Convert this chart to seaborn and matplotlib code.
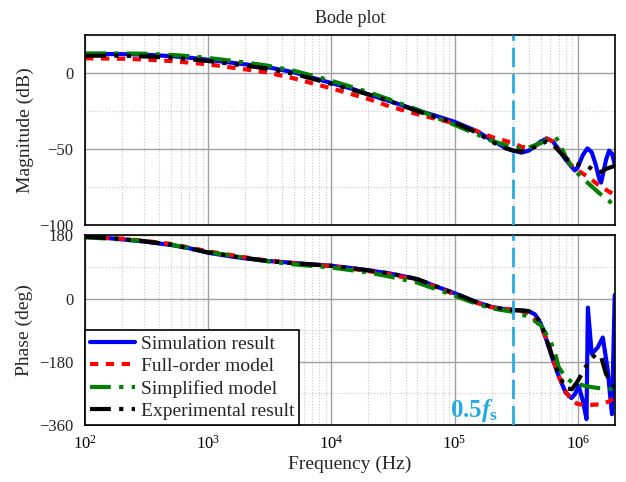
import numpy as np
import matplotlib
matplotlib.use('Agg')
import matplotlib.pyplot as plt
import seaborn as sns
from matplotlib.ticker import LogLocator, MultipleLocator, NullFormatter

# Simulation result (blue)
sim_f = [1e2, 1.5e2, 2e2, 3e2, 5e2, 7e2, 1e3, 1.5e3, 2e3, 3e3, 5e3, 7e3, 1e4, 1.5e4, 2e4, 3e4, 5e4, 7e4,
         1e5, 1.5e5, 2e5, 2.5e5, 3e5, 3.5e5, 4e5, 4.5e5, 5e5, 5.6e5, 6.3e5, 7e5, 8e5, 9e5, 9.5e5, 1e6,
         1.1e6, 1.2e6, 1.3e6, 1.4e6, 1.5e6, 1.55e6, 1.6e6, 1.7e6, 1.8e6, 1.9e6, 2e6]
sim_mag = [12.5, 12.6, 12.5, 12.2, 11.2, 10.2, 8.8, 7.0, 5.8, 4.0, 0.5, -3.0, -6.5, -10.5, -14.0, -18.5, -24.5, -28.0,
           -32.0, -38.0, -44.0, -48.5, -51.0, -52.3, -51.0, -48.0, -45.0, -43.0, -45.0, -50.0, -57.0, -62.0, -64.0, -62.0,
           -54.0, -49.5, -52.0, -60.0, -70.0, -72.0, -67.0, -57.0, -51.0, -53.0, -60.0]
sim_ph_f = [1e2, 1.5e2, 2e2, 3e2, 5e2, 7e2, 1e3, 1.5e3, 2e3, 3e3, 5e3, 7e3, 1e4, 1.5e4, 2e4, 3e4, 5e4, 7e4,
            1e5, 1.5e5, 2e5, 2.5e5, 3e5, 3.5e5, 4e5, 4.5e5, 5e5, 5.6e5, 6.3e5, 7e5, 8e5, 8.9e5, 9.5e5, 1.02e6,
            1.1e6, 1.18e6, 1.21e6, 1.3e6, 1.45e6, 1.6e6, 1.75e6, 1.9e6, 2e6]
sim_ph = [175, 172, 168, 162, 152, 143, 130, 120, 114, 107, 101, 97, 93, 86, 80, 71, 55, 35,
          15, -10, -24, -30, -33, -34, -36, -45, -70, -120, -175, -220, -268, -283, -272, -249,
          -290, -343, -26, -157, -140, -111, -200, -329, 10]

# Full-order model (red)
full_f = [1e2, 2e2, 3e2, 5e2, 1e3, 2e3, 3e3, 5e3, 1e4, 2e4, 3e4, 5e4, 7e4, 1e5, 1.5e5, 2e5, 3e5, 3.5e5,
          4e5, 4.5e5, 5e5, 5.6e5, 6.3e5, 7e5, 8e5, 9e5, 1e6, 1.2e6, 1.5e6, 1.8e6, 2e6]
full_mag = [9.8, 9.5, 9.0, 8.0, 5.8, 2.5, 0.5, -3.5, -10.0, -17.0, -22.0, -27.0, -30.0, -33.0, -38.0, -42.0, -46.0, -48.5,
            -49.0, -48.0, -45.5, -43.0, -45.0, -50.0, -57.0, -61.0, -64.0, -68.0, -74.0, -78.0, -80.0]
full_ph = [175, 170, 164, 155, 134, 117, 108, 100, 92, 78, 68, 52, 33, 12, -12, -25, -32, -36,
           -42, -60, -80, -115, -170, -220, -265, -290, -300, -303, -301, -293, -280]

# Simplified model (green)
simp_f = [1e2, 2e2, 3e2, 5e2, 7e2, 1e3, 1.5e3, 2e3, 3e3, 5e3, 1e4, 2e4, 3e4, 5e4, 7e4, 1e5, 1.5e5, 2e5,
          3e5, 3.5e5, 4e5, 5e5, 6e5, 6.6e5, 7e5, 8e5, 9e5, 1e6, 1.2e6, 1.5e6, 1.8e6, 2e6]
simp_mag = [13.0, 13.0, 12.8, 12.0, 11.2, 10.0, 8.3, 7.0, 5.0, 1.5, -5.0, -12.5, -17.5, -24.0, -29.0, -34.0, -40.0, -44.5,
            -49.0, -49.5, -49.0, -46.0, -43.0, -42.0, -45.0, -55.0, -62.0, -66.0, -72.0, -79.0, -84.0, -88.0]
simp_ph = [174, 168, 163, 153, 144, 132, 122, 116, 106, 97, 88, 74, 62, 45, 27, 8, -15, -28,
           -38, -45, -52, -75, -120, -160, -195, -225, -238, -243, -250, -255, -257, -258]

# Experimental result (black)
exp_f = [1e2, 2e2, 3e2, 5e2, 1e3, 2e3, 3e3, 5e3, 1e4, 2e4, 3e4, 5e4, 7e4, 1e5, 1.5e5, 2e5, 2.5e5, 3e5,
         3.5e5, 4e5, 4.5e5, 5e5, 5.6e5, 6.3e5, 7e5, 8e5, 9e5, 1e6, 1.2e6, 1.4e6, 1.55e6, 1.7e6, 2e6]
exp_mag = [11.5, 11.5, 11.0, 10.3, 8.0, 5.0, 3.0, -0.5, -7.0, -14.0, -18.5, -25.0, -29.0, -32.5, -39.0, -45.0, -49.0, -51.0,
           -51.5, -50.5, -48.5, -46.5, -45.0, -47.0, -51.0, -56.0, -59.0, -60.0, -61.0, -65.0, -65.0, -63.0, -61.0]
exp_ph = [176, 169, 163, 153, 131, 115, 107, 100, 93, 80, 71, 55, 35, 15, -10, -24, -30, -33,
          -34, -36, -45, -70, -118, -170, -215, -255, -258, -235, -186, -158, -165, -215, -252]

series = [
    ('Simulation result', sim_f, sim_mag, sim_ph_f, sim_ph, '#0000FF', '-'),
    ('Full-order model', full_f, full_mag, full_f, full_ph, '#FF0000', (0, (2, 1.8))),
    ('Simplified model', simp_f, simp_mag, simp_f, simp_ph, '#008000', (0, (5, 2, 1, 2))),
    ('Experimental result', exp_f, exp_mag, exp_f, exp_ph, '#000000', (0, (5, 2, 1, 2, 1, 2))),
]

sns.set_theme(style='white')
plt.rcParams['font.family'] = ['Liberation Serif', 'DejaVu Serif']
plt.rcParams['mathtext.fontset'] = 'custom'
plt.rcParams['mathtext.rm'] = 'Liberation Serif'
plt.rcParams['mathtext.bf'] = 'Liberation Serif:bold'
plt.rcParams['mathtext.it'] = 'Liberation Serif:italic:bold'

fig, (ax1, ax2) = plt.subplots(2, 1, figsize=(6.26, 4.82), dpi=100, sharex=True)
fig.subplots_adjust(left=0.136, right=0.982, top=0.927, bottom=0.118, hspace=0.053)

for ax in (ax1, ax2):
    ax.set_xscale('log')

for name, fm, mag, fp, ph, col, ls in series:
    sns.lineplot(x=fm, y=mag, ax=ax1, color=col, lw=3, linestyle=ls, estimator=None, sort=False)
    sns.lineplot(x=fp, y=ph, ax=ax2, color=col, lw=3, linestyle=ls, estimator=None, sort=False, label=name)

for ax in (ax1, ax2):
    ax.axvline(3e5, color='#29ABE2', lw=2, ls=(0, (7, 2.5)), zorder=5)
    ax.set_xlim(100, 2e6)
    ax.xaxis.set_major_locator(LogLocator(base=10, numticks=10))
    ax.xaxis.set_minor_locator(LogLocator(base=10, subs=np.arange(2, 10), numticks=20))
    ax.xaxis.set_minor_formatter(NullFormatter())
    ax.grid(which='major', color='#a0a0a0', lw=1.0, ls='-')
    ax.grid(which='minor', color='#c8c8c8', lw=0.8, ls=':')
    ax.tick_params(axis='x', which='major', direction='inout', length=7, width=1, labelsize=12, colors='black')
    ax.tick_params(axis='x', which='minor', direction='in', length=4, width=0.8)
    ax.tick_params(axis='y', which='major', direction='out', length=5, width=1, labelsize=12)
    ax.tick_params(axis='y', which='minor', length=0)
    for sp in ax.spines.values():
        sp.set_color('black')
        sp.set_linewidth(1.2)

ax1.set_ylim(-100, 25)
ax1.set_yticks([-100, -50, 0])
ax1.yaxis.set_minor_locator(MultipleLocator(25))
ax1.set_ylabel('Magnitude (dB)', fontsize=14)
ax1.set_title('Bode plot', fontsize=13, pad=9)
ax1.tick_params(axis='x', labelbottom=False)

ax2.set_ylim(-360, 180)
ax2.set_yticks([-360, -180, 0, 180])
ax2.yaxis.set_minor_locator(MultipleLocator(90))
ax2.set_ylabel('Phase (deg)', fontsize=14)
ax2.set_xlabel('Frequency (Hz)', fontsize=14, labelpad=2)

ax2.text(9.2e4, -318, r'$\mathbf{0.5}f_{\mathbf{s}}$', color='#29ABE2', fontsize=18, ha='left', va='center')

leg = ax2.legend(loc='lower left', borderaxespad=0, fontsize=14, handlelength=2.3, handletextpad=0.3,
                 labelspacing=0.25, borderpad=0.25, fancybox=False, framealpha=1, edgecolor='black')
leg.get_frame().set_linewidth(1.2)

fig.savefig('out.png', dpi=100)
